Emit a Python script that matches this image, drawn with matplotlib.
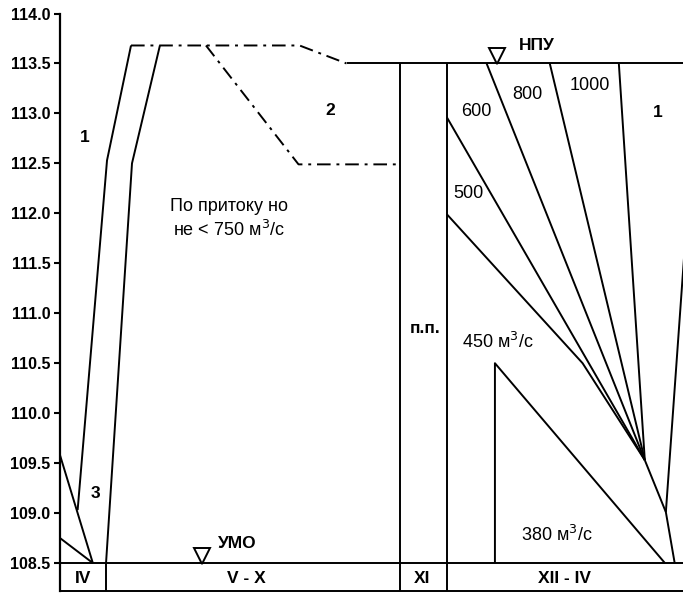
import matplotlib
matplotlib.use("Agg")
import matplotlib.pyplot as plt

plt.rcParams["font.family"] = ["Liberation Sans", "DejaVu Sans"]

# x axis in months from the left edge of the chart, y in metres
y_ticks = [108.5, 109.0, 109.5, 110.0, 110.5, 111.0, 111.5, 112.0, 112.5, 113.0, 113.5, 114.0]

# band of periods under the chart
band_edges = [0.94, 6.94, 7.9]
band_names = ["IV", "V - X", "XI", "XII - IV"]
band_centers = [0.47, 3.8, 7.39, 10.3]

# line 1 (spring drawdown)
left1_x = [1.45, 0.96, 0.36]
left1_y = [113.68, 112.53, 109.03]
right1_x = [2.04, 1.47, 0.94]
right1_y = [113.68, 112.5, 108.5]
# lines 3
line3a_x = [0.0, 0.67]
line3a_y = [109.58, 108.5]
line3b_x = [0.0, 0.67]
line3b_y = [108.75, 108.5]

# line 2 (dash-dot)
upper2_x = [1.45, 4.89, 5.85]
upper2_y = [113.68, 113.68, 113.5]
lower2_x = [2.98, 4.87, 6.94]
lower2_y = [113.68, 112.49, 112.49]

# НПУ level
npu_level = 113.5
npu_start = 5.85
umo_level = 108.5

# winter fan of discharges
fan_top_x = [7.9, 8.71, 10.0, 11.41]
fan_top_y = [112.96, 113.5, 113.5, 113.5]
fan_node = (11.94, 109.53)
line500_x = [7.9, 10.67, 11.94]
line500_y = [111.99, 110.5, 109.53]
tail_x = [11.94, 12.37, 12.55]
tail_y = [109.53, 109.01, 108.5]
right_line_x = [12.75, 12.37]
right_line_y = [111.62, 109.01]
tri_x = [8.88, 8.88, 12.35]
tri_y = [108.5, 110.5, 108.5]

xmax = 12.72
ymin, ymax = 108.22, 114.0

fig = plt.figure(figsize=(6.83, 5.93), dpi=100)
ax = fig.add_axes([60 / 683, 1 - 591 / 593, 1 - 60 / 683, (591 - 13.5) / 593])
ax.set_xlim(0, xmax)
ax.set_ylim(ymin, ymax)

lw = 1.4
k = dict(color="black", lw=lw, solid_capstyle="butt")

ax.plot(left1_x, left1_y, **k)
ax.plot(right1_x, right1_y, **k)
ax.plot(line3a_x, line3a_y, **k)
ax.plot(line3b_x, line3b_y, **k)
ax.plot(upper2_x, upper2_y, color="black", lw=lw, dashes=(7, 3, 1.5, 3))
ax.plot(lower2_x, lower2_y, color="black", lw=lw, dashes=(7, 3, 1.5, 3))

ax.plot([npu_start, xmax], [npu_level, npu_level], **k)
ax.plot([0, xmax], [umo_level, umo_level], **k)

# vertical separators
for xe in band_edges:
    ax.plot([xe, xe], [ymin, umo_level], **k)
for xe in band_edges[1:]:
    ax.plot([xe, xe], [umo_level, npu_level], **k)

for fx, fy in zip(fan_top_x, fan_top_y):
    ax.plot([fx, fan_node[0]], [fy, fan_node[1]], **k)
ax.plot(line500_x, line500_y, **k)
ax.plot(tail_x, tail_y, **k)
ax.plot(right_line_x, right_line_y, **k)
ax.plot(tri_x, tri_y, **k)

# level markers
ax.plot(8.92, 113.57, marker="v", ms=11, mfc="white", mec="black", mew=1.4)
ax.plot(2.9, 108.57, marker="v", ms=11, mfc="white", mec="black", mew=1.4)

bold = dict(ha="center", va="center", fontsize=12.5, fontweight="bold")
reg = dict(ha="center", va="center", fontsize=13)

ax.text(9.73, 113.68, "НПУ", **bold)
ax.text(3.63, 108.7, "УМО", **bold)
ax.text(0.51, 112.76, "1", **bold)
ax.text(0.73, 109.2, "3", **bold)
ax.text(5.51, 113.03, "2", **bold)
ax.text(12.2, 113.01, "1", **bold)
ax.text(7.45, 110.85, "п.п.", **bold)

ax.text(3.45, 111.94, "По притоку но\nне < 750 м$^3$/с", linespacing=1.3, **reg)
ax.text(8.94, 110.71, "450 м$^3$/с", **reg)
ax.text(10.14, 108.78, "380 м$^3$/с", **reg)
ax.text(8.51, 113.02, "600", **reg)
ax.text(9.55, 113.19, "800", **reg)
ax.text(10.82, 113.28, "1000", **reg)
ax.text(8.33, 112.2, "500", **reg)

for xc, name in zip(band_centers, band_names):
    ax.text(xc, 108.35, name, **bold)

for s in ["top", "right"]:
    ax.spines[s].set_visible(False)
ax.spines["left"].set_linewidth(1.6)
ax.spines["bottom"].set_linewidth(1.4)
ax.set_xticks([])
ax.set_yticks(y_ticks)
ax.set_yticklabels([f"{v:.1f}" for v in y_ticks], fontsize=11.5, fontweight="bold")
ax.tick_params(axis="y", direction="out", length=4, width=1.5, pad=3)

fig.savefig("out.png", dpi=100)
